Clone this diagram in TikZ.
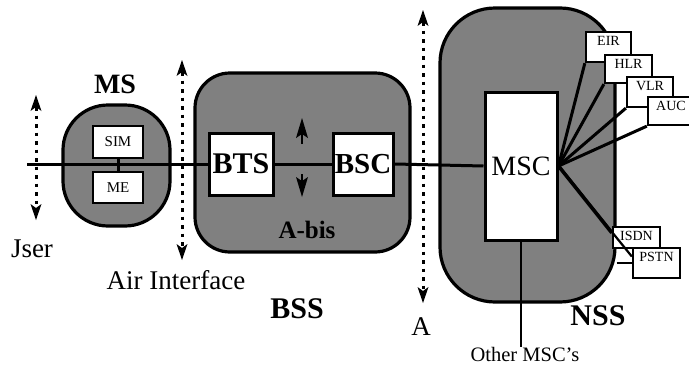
\documentclass[tikz,border=0pt]{standalone}
\usepackage{fontspec}
\setmainfont{Liberation Serif}
\usetikzlibrary{arrows.meta,calc}
\newcommand\fsz[1]{\fontsize{#1}{#1}\selectfont}
\begin{document}
\begin{tikzpicture}[x=1pt,y=-1pt,
  zone/.style={draw, line width=3.2pt, fill=black!50, rounded corners=#1, inner sep=0pt},
  unit/.style={draw, line width=3pt, fill=white, inner sep=0pt},
  small/.style={draw, line width=2.6pt, fill=white, inner sep=0pt, font=\fsz{15}},
  dbbox/.style={draw, line width=2.3pt, fill=white, font=\fsz{14}, inner xsep=0pt,
                inner ysep=2pt, text height=11pt, text depth=#1},
  link/.style={line width=3pt},
  ifacetip/.tip={Stealth[length=16pt,width=11pt,inset=4pt,line width=0pt]},
  iface/.style={line width=3pt, dash pattern=on 3.5pt off 5pt, ifacetip-ifacetip},
  abis/.style={line width=2.4pt, -{Stealth[length=20pt,width=12pt,inset=4pt,line width=0pt]}},
  title/.style={font=\bfseries\fsz{30}},
  caption/.style={font=\fsz{27}}]
\useasboundingbox (0,0) rectangle (689,367);

% subsystem zones
\node[zone=45pt, minimum width=107pt, minimum height=121pt] (MS)  at (116.5,165.5) {};
\node[zone=35pt, minimum width=215pt, minimum height=179pt] (BSS) at (302.5,162.5) {};
\node[zone=55pt, minimum width=175pt, minimum height=294pt] (NSS) at (527.5,155) {};

% interface markers
\coordinate (usertop) at (36,95);
\coordinate (userbot) at (36,220);
\draw[iface] (usertop) -- (userbot);
\coordinate (airtop) at (182,60);
\coordinate (airbot) at (182,260);
\draw[iface] (airtop) -- (airbot);
\coordinate (atop) at (423,10);
\coordinate (abot) at (423,303);
\draw[iface] (atop) -- (abot);

% units
\node[unit, minimum width=72pt, minimum height=148pt, font=\fsz{28}] (MSC) at (521,166) {MSC};
\node[unit, minimum width=64pt, minimum height=62pt, font=\bfseries\fsz{30}] (BTS) at (241,164) {BTS};
\node[unit, minimum width=60pt, minimum height=62pt, font=\bfseries\fsz{29}] (BSC) at (363,164) {BSC};
\node[small, minimum width=50pt, minimum height=32pt] (SIM) at (118,142) {SIM};
\node[small, minimum width=50pt, minimum height=31pt] (ME)  at (118,187.5) {ME};

% transmission path
\coordinate (linestart) at (27,164);
\draw[link] (linestart) -- (BTS.west);
\draw[link] (SIM.south) -- (ME.north);
\draw[link] (BTS.east) -- (BSC.west);
\draw[link] (BSC.east) -- (MSC.west);

% A-bis arrows
\coordinate (abisup) at (302,144);
\coordinate (abisuptip) at (302,118);
\coordinate (abisdn) at (302,174);
\coordinate (abisdntip) at (302,197);
\draw[abis] (abisup) -- (abisuptip);
\draw[abis] (abisdn) -- (abisdntip);

% databases
\node[dbbox=15pt, minimum width=45pt] (EIR)  at (608.5,47)  {EIR};
\node[dbbox=13pt, minimum width=47pt] (HLR)  at (628.5,69)  {HLR};
\node[dbbox=15pt, minimum width=46pt] (VLR)  at (650,92)    {VLR};
\node[dbbox=13pt, minimum width=46pt] (AUC)  at (671,111)   {AUC};
\node[dbbox=6pt,  minimum width=47pt] (ISDN) at (636.5,237.5) {ISDN};
\node[dbbox=15pt, minimum width=47pt] (PSTN) at (656.5,263) {PSTN};

\draw[link] (MSC.east) -- (EIR.south west);
\draw[link] (MSC.east) -- (HLR.south west);
\draw[link] (MSC.east) -- (VLR.south west);
\draw[link] (MSC.east) -- (AUC.south west);
\draw[link, line width=3.6pt] (MSC.east) -- ($(ISDN.north west)!0.3!(ISDN.south west)$);
\draw[line width=2.2pt] (MSC.east) -- ($(PSTN.north west)!0.3!(PSTN.south west)$);
\draw[line width=2.4pt] (NSS.east |- PSTN.west) -- (PSTN.west);

% other MSCs
\node[font=\fsz{20.5}, inner sep=0pt] (other) at (525,354) {Other MSC's};
\draw[line width=2.4pt] (MSC.south) -- (other.north -| MSC.south);

% labels
\node[font=\bfseries\fsz{28}] (lMS) at (115,84) {MS};
\node[font=\bfseries\fsz{25}] (lAbis) at (307,230) {A-bis};
\node[title] (lBSS) at (297,309) {BSS};
\node[title] (lNSS) at (598,316) {NSS};
\node[caption] (lUser) at (32,249) {Jser};
\node[caption] (lAir) at (176,280) {Air Interface};
\node[font=\fsz{27}] (lA) at (421,327) {A};
\end{tikzpicture}
\end{document}
